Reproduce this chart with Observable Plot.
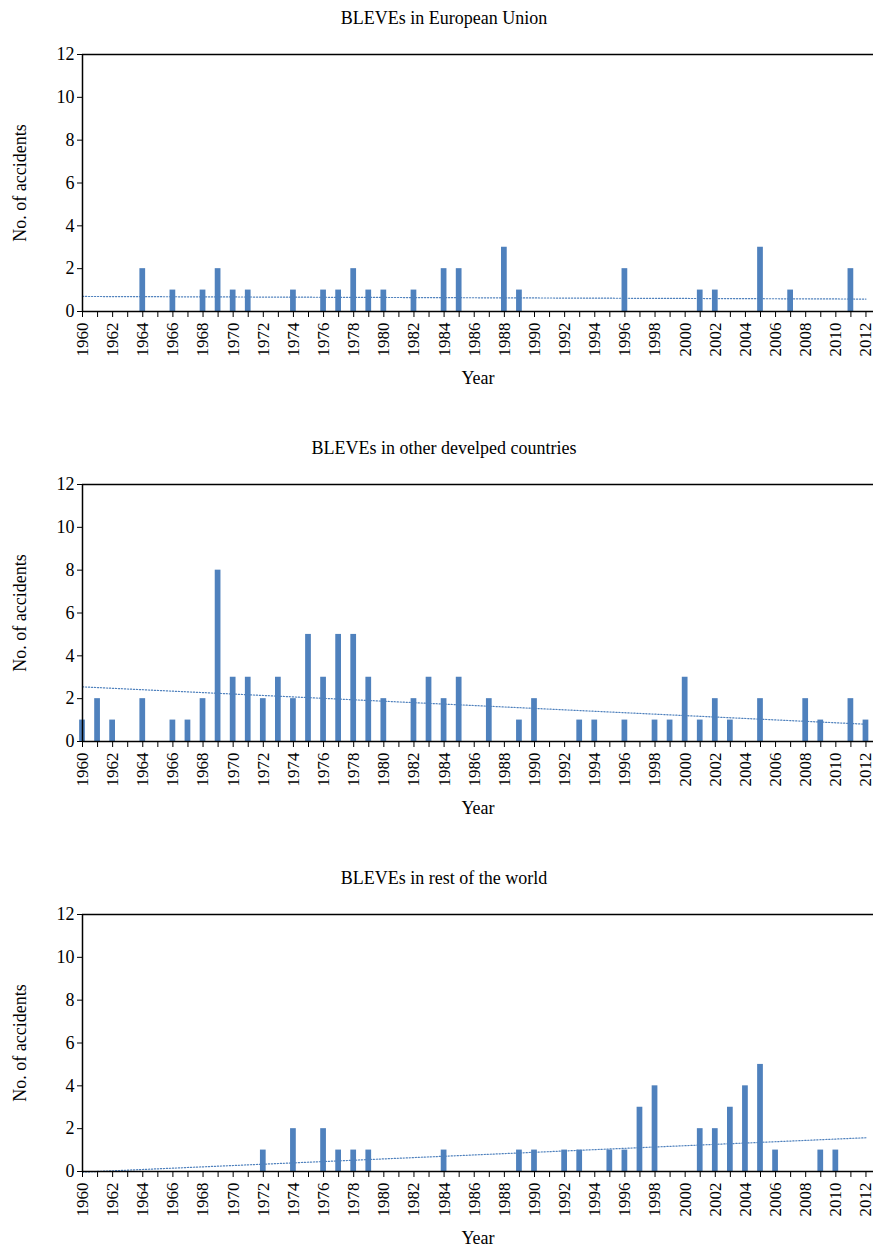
<!DOCTYPE html>
<html><head><meta charset="utf-8">
<script src="https://cdn.jsdelivr.net/npm/d3@7"></script>
<script src="https://cdn.jsdelivr.net/npm/@observablehq/plot@0.6"></script>
<style>
body{margin:0;background:#fff;font-family:"Liberation Serif","Times New Roman",Times,"DejaVu Serif",serif;}
#wrap{width:873px;height:1247px;overflow:hidden;position:relative;background:#fff;}
.panel{position:relative;width:873px;height:430px;}
.title{position:absolute;left:0;top:0;width:888px;height:36px;line-height:36px;text-align:center;font-size:18px;color:#000;font-family:"Liberation Serif","Times New Roman",Times,"DejaVu Serif",serif;}
.panel svg{position:absolute;left:0;top:36px;}
.panel svg, .panel svg text{font-family:"Liberation Serif","Times New Roman",Times,"DejaVu Serif",serif !important;}
</style></head><body><div id="wrap"></div>
<script>
const years = d3.range(1960, 2013);
// counts per year, 1960..2012
const euCounts = [
  0,0,0,0,2,0,1,0,1,2,
  1,1,0,0,1,0,1,1,2,1,
  1,0,1,0,2,2,0,0,3,1,
  0,0,0,0,0,0,2,0,0,0,
  0,1,1,0,0,3,0,1,0,0,
  0,2,0
];
const developedCounts = [
  1,2,1,0,2,0,1,1,2,8,
  3,3,2,3,2,5,3,5,5,3,
  2,0,2,3,2,3,0,2,0,1,
  2,0,0,1,1,0,1,0,1,1,
  3,1,2,1,0,2,0,0,2,1,
  0,2,1
];
const restCounts = [
  0,0,0,0,0,0,0,0,0,0,
  0,0,1,0,2,0,2,1,1,1,
  0,0,0,0,1,0,0,0,0,1,
  1,0,1,1,0,1,1,3,4,0,
  0,2,2,3,4,5,1,0,0,1,
  1,0,0
];
const titles = ["BLEVEs in European Union", "BLEVEs in other develped countries", "BLEVEs in rest of the world"];
const yTicks = [0, 2, 4, 6, 8, 10, 12];
const xLabelYears = d3.range(1960, 2013, 2);
const yLabel = "No. of accidents";
const xLabel = "Year";

const blue = "#4F81BD";
const font = "'Liberation Serif', 'Times New Roman', Times, 'DejaVu Serif', serif";

function panel(counts, title) {
  const data = years.map((year, i) => ({year, value: counts[i]}));
  const div = document.createElement("div");
  div.className = "panel";
  const t = document.createElement("div");
  t.className = "title";
  t.textContent = title;
  div.appendChild(t);
  const svg = Plot.plot({
    width: 873, height: 394,
    marginTop: 18, marginBottom: 119, marginLeft: 82, marginRight: 0,
    style: {fontFamily: font, fontSize: "17px", color: "#000", background: "#fff", overflow: "visible"},
    x: {domain: [1960, 2012.5], axis: null},
    y: {domain: [0, 12], axis: null},
    marks: [
      Plot.rect(data.filter(d => d.value > 0), {x1: d => d.year - 0.19, x2: d => d.year + 0.19, y1: 0, y2: "value", fill: blue}),
      Plot.linearRegressionY(data, {x: "year", y: "value", ci: 0, stroke: blue, strokeWidth: 1.2, strokeDasharray: "1.2,1.8"}),
      Plot.ruleY([0, 12], {stroke: "#000", strokeWidth: 1.5}),
      Plot.ruleX([1960], {y1: 0, y2: 12, stroke: "#000", strokeWidth: 1.5}),
      Plot.axisY({ticks: yTicks, tickSize: 5, tickPadding: 3, tickFormat: d => String(d), label: null, stroke: "#000", fontSize: 18}),
      Plot.axisX({ticks: years, tickSize: 6, tickFormat: () => "", label: null, stroke: "#000"}),
      Plot.axisX({ticks: xLabelYears, tickSize: 0, tickPadding: 11, tickRotate: -90, tickFormat: d => String(d), label: null, fontSize: 17}),
      Plot.text([yLabel], {text: d => d, frameAnchor: "left", dx: -62, rotate: -90, fontSize: 18, textAnchor: "middle", lineAnchor: "middle", fill: "#000"}),
      Plot.text([xLabel], {text: d => d, frameAnchor: "bottom", dy: 67, fontSize: 18, textAnchor: "middle", lineAnchor: "middle", fill: "#000"})
    ]
  });
  div.appendChild(svg);
  return div;
}

const wrap = document.getElementById("wrap");
wrap.appendChild(panel(euCounts, titles[0]));
wrap.appendChild(panel(developedCounts, titles[1]));
wrap.appendChild(panel(restCounts, titles[2]));
</script>
</body></html>
